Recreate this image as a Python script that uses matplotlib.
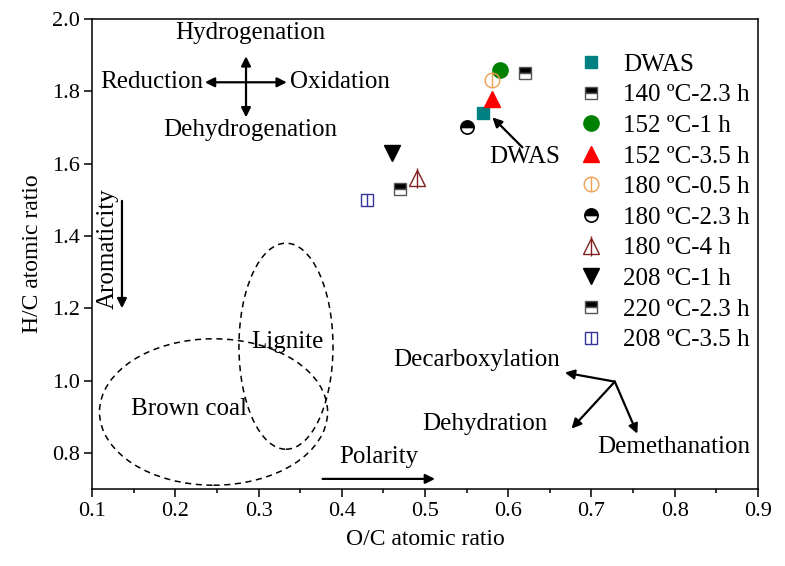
import matplotlib
matplotlib.use('Agg')
import matplotlib.pyplot as plt
from matplotlib.patches import Ellipse

plt.rcParams['font.family'] = ['Liberation Serif', 'DejaVu Serif']

# O/C and H/C atomic ratios
labels = ['DWAS', '140 ºC-2.3 h', '152 ºC-1 h', '152 ºC-3.5 h', '180 ºC-0.5 h',
          '180 ºC-2.3 h', '180 ºC-4 h', '208 ºC-1 h', '220 ºC-2.3 h', '208 ºC-3.5 h']
oc = [0.57, 0.62, 0.59, 0.58, 0.58, 0.55, 0.49, 0.46, 0.47, 0.43]
hc = [1.74, 1.85, 1.86, 1.78, 1.83, 1.70, 1.56, 1.63, 1.53, 1.50]

# marker styles: list of layers per point (drawn on top of each other)
styles = [
    [dict(marker='s', ms=9, mfc='#008080', mec='#008080')],
    [dict(marker='s', ms=8.5, fillstyle='top', mfc='k', mfcalt='white', mec='#555555', mew=1)],
    [dict(marker='o', ms=11, mfc='#008000', mec='#008000')],
    [dict(marker='^', ms=12, mfc='red', mec='red')],
    [dict(marker='o', ms=10.5, mfc='none', mec='#f0a050', mew=1),
     dict(marker='|', ms=10.5, mec='#f0a050', mew=1)],
    [dict(marker='o', ms=9.5, fillstyle='top', mfc='k', mfcalt='white', mec='k', mew=1.2)],
    [dict(marker='^', ms=11.5, mfc='none', mec='#802020', mew=1),
     dict(marker='|', ms=14, mec='#802020', mew=1)],
    [dict(marker='v', ms=12, mfc='k', mec='k')],
    [dict(marker='s', ms=8.5, fillstyle='top', mfc='k', mfcalt='white', mec='#555555', mew=1)],
    [dict(marker='s', ms=8.5, mfc='none', mec='#333399', mew=1),
     dict(marker='|', ms=8.5, mec='#333399', mew=1)],
]

fig = plt.figure(figsize=(7.85, 5.66), dpi=100)
ax = fig.add_axes([0.1172, 0.136, 0.8484, 0.8304])

handles = []
for x, y, lay in zip(oc, hc, styles):
    hs = []
    for st in lay:
        h, = ax.plot([x], [y], linestyle='none', zorder=5, **st)
        hs.append(h)
    handles.append(tuple(hs))

ax.legend(handles, labels, loc='upper left', bbox_to_anchor=(0.711, 0.954),
          frameon=False, fontsize=18, handlelength=1.0, handletextpad=0.8,
          labelspacing=0.325, borderpad=0)

ax.set_xlim(0.1, 0.9)
ax.set_ylim(0.7, 2.0)
ax.set_xticks([0.1, 0.2, 0.3, 0.4, 0.5, 0.6, 0.7, 0.8, 0.9])
ax.set_xticks([0.15, 0.25, 0.35, 0.45, 0.55, 0.65, 0.75, 0.85], minor=True)
ax.set_yticks([0.8, 1.0, 1.2, 1.4, 1.6, 1.8, 2.0])
ax.tick_params(which='major', direction='out', length=5.5, width=1.1, labelsize=16)
ax.tick_params(which='minor', direction='out', length=3, width=1.1)
for s in ax.spines.values():
    s.set_linewidth(1.1)
ax.set_xlabel('O/C atomic ratio', fontsize=17, labelpad=6)
ax.set_ylabel('H/C atomic ratio', fontsize=17, labelpad=6)

tf = 18
arr = dict(arrowstyle='-|>', color='k', lw=1.6, mutation_scale=14, shrinkA=0, shrinkB=0)
arr2 = dict(arrowstyle='<|-|>', color='k', lw=1.6, mutation_scale=14, shrinkA=0, shrinkB=0)

# reaction cross
ax.annotate('', xy=(0.334, 1.825), xytext=(0.2356, 1.825), arrowprops=arr2)
ax.annotate('', xy=(0.285, 1.897), xytext=(0.285, 1.728), arrowprops=arr2)
ax.text(0.29, 1.962, 'Hydrogenation', fontsize=tf, ha='center', va='center')
ax.text(0.2336, 1.825, 'Reduction', fontsize=tf, ha='right', va='center')
ax.text(0.338, 1.825, 'Oxidation', fontsize=tf, ha='left', va='center')
ax.text(0.29, 1.692, 'Dehydrogenation', fontsize=tf, ha='center', va='center')

# DWAS pointer
ax.annotate('', xy=(0.581, 1.728), xytext=(0.617, 1.645), arrowprops=arr)
ax.text(0.62, 1.617, 'DWAS', fontsize=tf, ha='center', va='center')

# aromaticity
ax.annotate('', xy=(0.136, 1.200), xytext=(0.136, 1.497), arrowprops=arr)
ax.text(0.119, 1.364, 'Aromaticity', fontsize=tf, ha='center', va='center', rotation=90)

# coal regions
ax.add_patch(Ellipse((0.333, 1.095), 0.113, 0.57, fill=False, ls=(0, (4, 3)), lw=1.1, color='k'))
ax.add_patch(Ellipse((0.246, 0.913), 0.274, 0.405, fill=False, ls=(0, (4, 3)), lw=1.1, color='k'))
ax.text(0.335, 1.108, 'Lignite', fontsize=tf, ha='center', va='center')
ax.text(0.217, 0.922, 'Brown coal', fontsize=tf, ha='center', va='center')

# polarity
ax.annotate('', xy=(0.512, 0.728), xytext=(0.377, 0.728), arrowprops=arr)
ax.text(0.4445, 0.789, 'Polarity', fontsize=tf, ha='center', va='center')

# reaction pathways
o = (0.728, 0.997)
ax.annotate('', xy=(0.668, 1.022), xytext=o, arrowprops=arr)
ax.annotate('', xy=(0.676, 0.867), xytext=o, arrowprops=arr)
ax.annotate('', xy=(0.755, 0.853), xytext=o, arrowprops=arr)
ax.text(0.562, 1.058, 'Decarboxylation', fontsize=tf, ha='center', va='center')
ax.text(0.572, 0.881, 'Dehydration', fontsize=tf, ha='center', va='center')
ax.text(0.799, 0.817, 'Demethanation', fontsize=tf, ha='center', va='center')

fig.savefig('out.png', dpi=100)
